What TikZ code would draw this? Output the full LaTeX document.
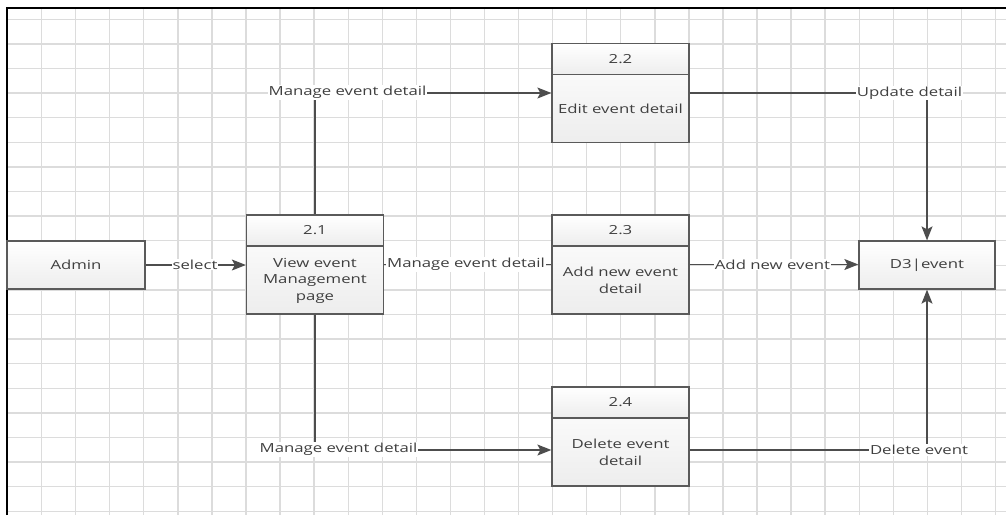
\documentclass[tikz,border=0pt]{standalone}
\usepackage{fontspec}
\setmainfont{Open Sans}[FakeStretch=1.34]
\usetikzlibrary{arrows.meta}
\definecolor{txt}{HTML}{3F3F3F}
\definecolor{ln}{HTML}{4D4D4D}
\definecolor{gridc}{HTML}{DCDCDC}
\definecolor{boxb}{HTML}{5A5A5A}
\begin{document}
\begin{tikzpicture}[x=1pt,y=-1pt,
  every node/.style={font=\fontsize{12.5}{16.5}\selectfont, text=txt},
  boxfill/.style={draw=boxb, line width=1.3pt, top color=white, bottom color=gray!14, inner sep=0pt},
  box/.style={boxfill, minimum width=137pt, minimum height=99pt},
  hdr/.style={boxfill, minimum width=137pt, minimum height=31pt, anchor=north},
  bodytext/.style={align=center, inner sep=0pt},
  ext/.style={boxfill, minimum width=137pt, minimum height=48pt},
  flow/.style={draw=ln, line width=1.2pt},
  arr/.style={flow, -{Stealth[length=14pt,width=11pt,inset=3pt]}},
  lbl/.style={fill=white, inner sep=1pt},
]
\useasboundingbox (0,0) rectangle (1006,515);
% grid
\foreach \i in {0,...,29} \draw[gridc, line width=1.4pt] ({7.5+34.07*\i},8) -- ({7.5+34.07*\i},515);
\foreach \j in {0,...,20} \draw[gridc, line width=1.4pt] (7,{19.3+24.6*\j}) -- (1006,{19.3+24.6*\j});
\draw[black, line width=2pt] (7,515) -- (7,8) -- (1006,8);

% external entity and store
\node[ext, minimum width=138pt] (admin) at (76,265) {Admin};
\node[ext, minimum width=136pt] (d3) at (927,265) {D3|event};

% processes
\node[box] (p21) at (315,264.5) {};
\node[hdr] (p21n) at (p21.north) {2.1};
\node[bodytext] (p21t) at ([yshift=-16pt]p21.center) {View event\\Management\\page};

\node[box] (p22) at (620.5,93) {};
\node[hdr] (p22n) at (p22.north) {2.2};
\node[bodytext] (p22t) at ([yshift=-16pt]p22.center) {Edit event detail};

\node[box] (p23) at (620.5,264.5) {};
\node[hdr] (p23n) at (p23.north) {2.3};
\node[bodytext] (p23t) at ([yshift=-16pt]p23.center) {Add new event\\detail};

\node[box] (p24) at (620.5,436.5) {};
\node[hdr] (p24n) at (p24.north) {2.4};
\node[bodytext] (p24t) at ([yshift=-16pt]p24.center) {Delete event\\detail};

% connectors
\draw[arr] (admin.east) -- (admin.east -| p21.west);
\draw[arr] (p21n.north) |- (p22.west);
\draw[flow] (p21.east) -- (p23.west);
\draw[arr] (p21.south) |- ([yshift=-13.5pt]p24.west);
\draw[arr] (p22.east) -| (d3.north);
\draw[arr] (p23.east) -- (p23.east -| d3.west);
\draw[arr] ([yshift=-13.5pt]p24.east) -| (d3.south);

% labels
\node[lbl] (l1) at (195,264.5) {select};
\node[lbl] (l2) at (347.5,92.5) {Manage event detail};
\node[lbl] (l3) at (466,264.5) {Manage event detail};
\node[lbl] (l4) at (338.5,449.5) {Manage event detail};
\node[lbl] (l5) at (909.5,93) {Update detail};
\node[lbl] (l6) at (772.5,264.5) {Add new event};
\node[lbl] (l7) at (919,450) {Delete event};
\end{tikzpicture}
\end{document}
